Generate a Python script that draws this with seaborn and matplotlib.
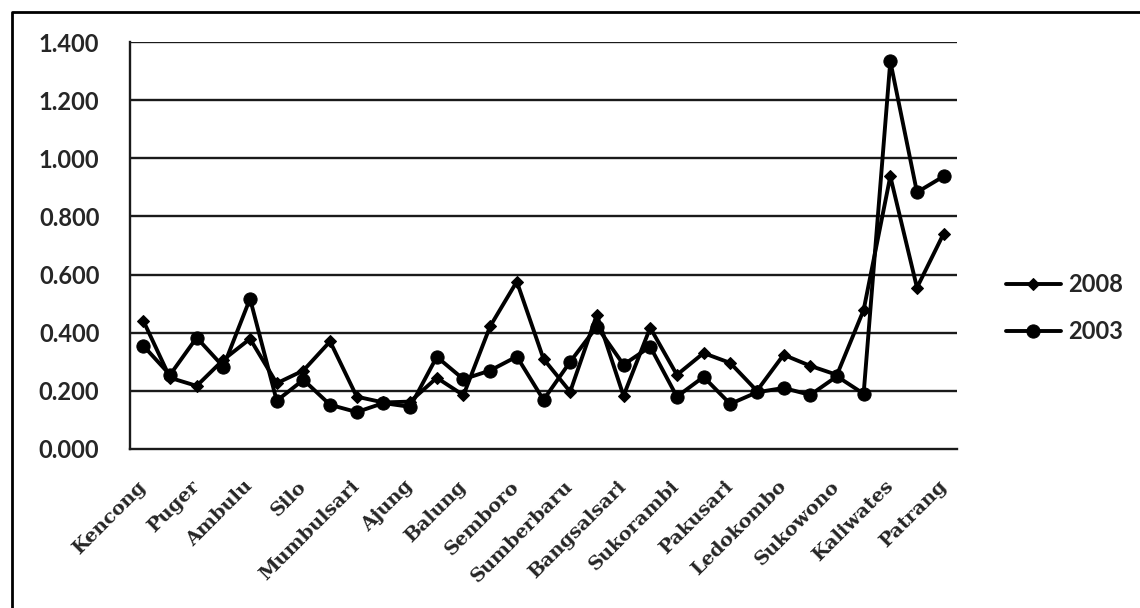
import numpy as np
import pandas as pd
import matplotlib
matplotlib.use('Agg')
import matplotlib.pyplot as plt
import matplotlib.transforms as mtransforms
from matplotlib.lines import Line2D
import seaborn as sns

districts = ['Kencong', 'Gumukmas', 'Puger', 'Wuluhan', 'Ambulu', 'Tempurejo', 'Silo',
             'Mayang', 'Mumbulsari', 'Jenggawah', 'Ajung', 'Rambipuji', 'Balung',
             'Umbulsari', 'Semboro', 'Jombang', 'Sumberbaru', 'Tanggul', 'Bangsalsari',
             'Panti', 'Sukorambi', 'Arjasa', 'Pakusari', 'Kalisat', 'Ledokombo',
             'Sumberjambe', 'Sukowono', 'Jelbuk', 'Kaliwates', 'Sumbersari', 'Patrang']

gini_2008 = [0.441, 0.245, 0.217, 0.307, 0.379, 0.226, 0.270, 0.370, 0.180, 0.160,
             0.163, 0.245, 0.185, 0.422, 0.576, 0.310, 0.197, 0.462, 0.183, 0.417,
             0.255, 0.330, 0.296, 0.200, 0.324, 0.286, 0.255, 0.478, 0.938, 0.555, 0.741]
gini_2003 = [0.355, 0.255, 0.383, 0.283, 0.517, 0.166, 0.238, 0.152, 0.127, 0.158,
             0.145, 0.317, 0.240, 0.270, 0.318, 0.169, 0.300, 0.421, 0.290, 0.352,
             0.180, 0.248, 0.155, 0.195, 0.210, 0.186, 0.250, 0.190, 1.334, 0.883, 0.938]

yticks = [0.0, 0.2, 0.4, 0.6, 0.8, 1.0, 1.2, 1.4]

sns.set_style('white')
plt.rcParams['font.family'] = ['Lato', 'DejaVu Sans']

fig = plt.figure(figsize=(11.4, 6.08), dpi=100)
ax = fig.add_axes([130/1140, 1-449/608, (957-130)/1140, (449-42)/608])

sns.lineplot(x=districts, y=gini_2008, ax=ax, color='black', lw=2.8, marker='D',
             markersize=6, markeredgecolor='black', label='2008', sort=False)
sns.lineplot(x=districts, y=gini_2003, ax=ax, color='black', lw=2.8, marker='o',
             markersize=9.5, markeredgecolor='black', label='2003', sort=False)

ax.set_xlim(-0.5, len(districts) - 0.5)
ax.set_ylim(0, 1.4)
ax.set_yticks(yticks)
ax.set_yticklabels(['%.3f' % v for v in yticks], fontsize=17, fontweight='bold')
for v in yticks[1:]:
    ax.axhline(v, color='#1a1a1a', lw=1.7, zorder=0)

ax.set_xticks(range(0, len(districts), 2))
ax.set_xticklabels(districts[::2], rotation=45, ha='right', va='center',
                   rotation_mode='anchor', fontsize=14, fontweight='bold',
                   family='DejaVu Serif')
shift = mtransforms.ScaledTranslation(-6/100, 0, fig.dpi_scale_trans)
for lab in ax.get_xticklabels():
    lab.set_transform(lab.get_transform() + shift)
ax.tick_params(axis='both', length=0)
ax.tick_params(axis='y', pad=22)
ax.tick_params(axis='x', pad=25)

for s in ['top', 'right']:
    ax.spines[s].set_visible(False)
for s in ['left', 'bottom']:
    ax.spines[s].set_color('#1a1a1a')
    ax.spines[s].set_linewidth(1.7)
ax.set_xlabel('')
ax.set_ylabel('')

handles, labels = ax.get_legend_handles_labels()
ax.get_legend().remove()
fig.legend(handles, labels, loc='center left', bbox_to_anchor=(985/1140, 1-308/608),
           frameon=False, handlelength=2.3, labelspacing=1.0, handletextpad=0.3,
           prop={'weight': 'bold', 'size': 17})

# outer chart frame (left and top edges visible)
fig.add_artist(Line2D([12/1140, 12/1140, 1.0], [0.0, 1-12/608, 1-12/608],
                      transform=fig.transFigure, color='black', lw=2))

fig.savefig('out.png', dpi=100)
